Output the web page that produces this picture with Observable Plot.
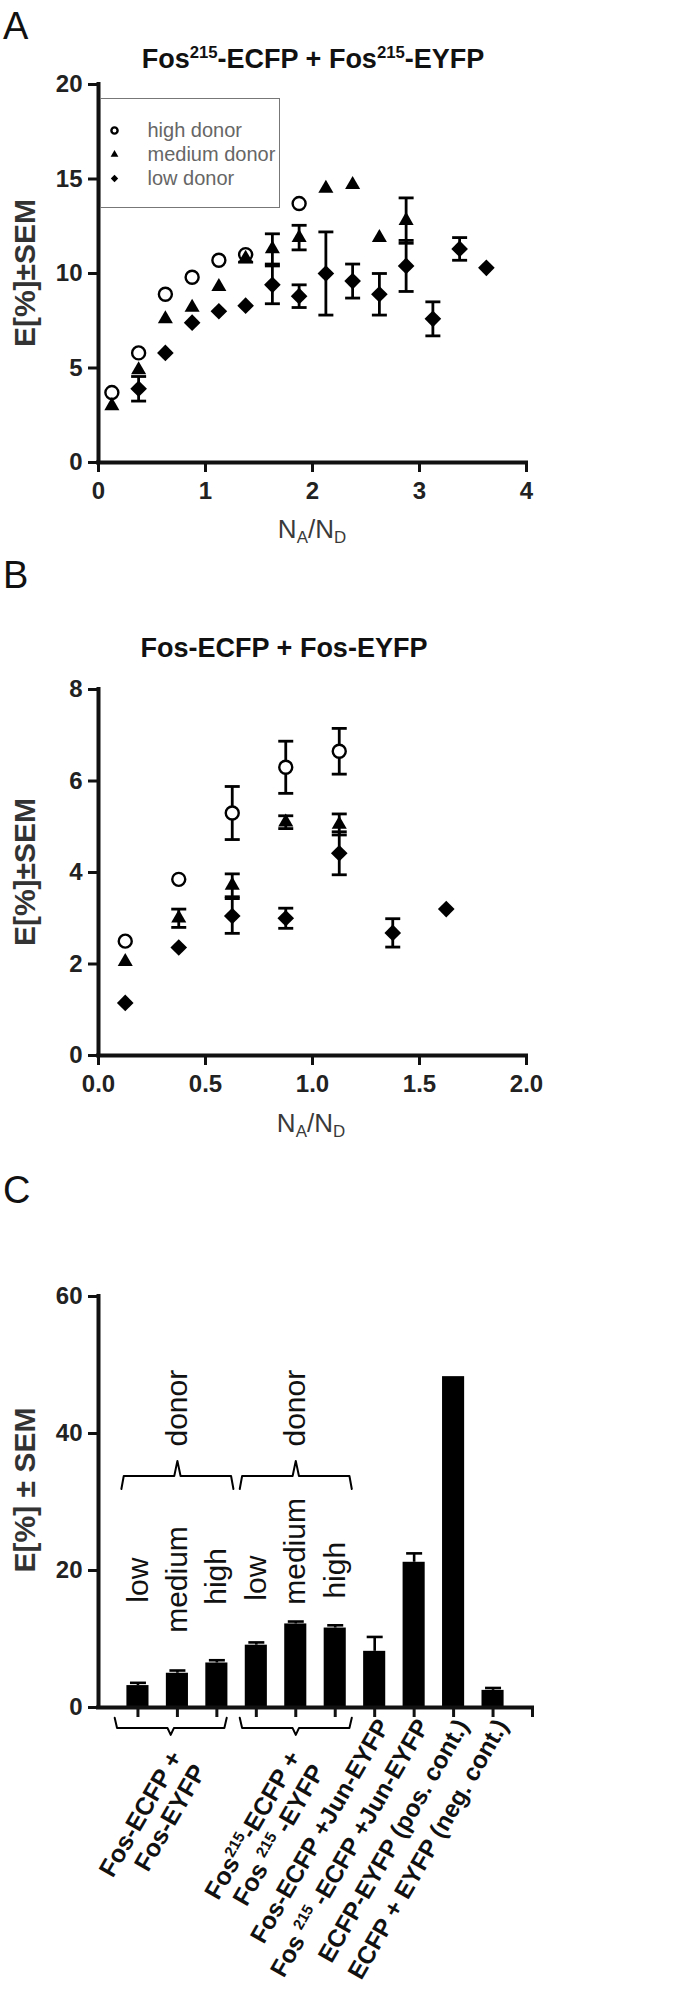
<!DOCTYPE html>
<html><head><meta charset="utf-8">
<script src="https://cdn.jsdelivr.net/npm/d3@7"></script>
<script src="https://cdn.jsdelivr.net/npm/@observablehq/plot@0.6"></script>
<style>
body{margin:0;background:#fff;}
#fig{position:relative;width:680px;height:2006px;font-family:"Liberation Sans",Arial,Helvetica,sans-serif;overflow:hidden;background:#fff;}
#fig svg{position:absolute;left:0;}
.lab{position:absolute;white-space:nowrap;line-height:1;}
.lab sub{font-size:0.65em;vertical-align:-0.28em;line-height:0;}
.lab sup{font-size:0.62em;vertical-align:0.62em;line-height:0;}
</style></head><body><div id="fig"></div>
<script>
// ---------------- DATA ----------------
const seriesNames = ["high donor", "medium donor", "low donor"];

// Panel A: Fos215-ECFP + Fos215-EYFP  (x = NA/ND, E[%], SEM)
const aHighX   = [0.125, 0.375, 0.625, 0.875, 1.125, 1.375, 1.875];
const aHighE   = [3.7, 5.8, 8.9, 9.8, 10.7, 11.0, 13.7];
const aHighSem = [0, 0, 0, 0, 0, 0, 0];
const aMedX    = [0.125, 0.375, 0.625, 0.875, 1.125, 1.375, 1.625, 1.875, 2.125, 2.375, 2.625, 2.875];
const aMedE    = [3.0, 4.9, 7.6, 8.2, 9.3, 10.8, 11.3, 11.9, 14.5, 14.7, 11.9, 12.8];
const aMedSem  = [0, 0, 0, 0, 0, 0.2, 0.8, 0.65, 0, 0, 0, 1.2];
const aLowX    = [0.375, 0.625, 0.875, 1.125, 1.375, 1.625, 1.875, 2.125, 2.375, 2.625, 2.875, 3.125, 3.375, 3.625];
const aLowE    = [3.9, 5.8, 7.4, 8.0, 8.3, 9.4, 8.8, 10.0, 9.6, 8.9, 10.4, 7.6, 11.3, 10.3];
const aLowSem  = [0.65, 0, 0, 0, 0, 1.0, 0.6, 2.2, 0.9, 1.1, 1.35, 0.9, 0.6, 0];
const aXTicks  = [0, 1, 2, 3, 4];
const aYTicks  = [0, 5, 10, 15, 20];

// Panel B: Fos-ECFP + Fos-EYFP
const bHighX   = [0.125, 0.375, 0.625, 0.875, 1.125];
const bHighE   = [2.5, 3.85, 5.3, 6.3, 6.65];
const bHighSem = [0, 0, 0.58, 0.57, 0.5];
const bMedX    = [0.125, 0.375, 0.625, 0.875, 1.125];
const bMedE    = [2.05, 3.0, 3.72, 5.1, 5.05];
const bMedSem  = [0, 0.2, 0.25, 0.14, 0.23];
const bLowX    = [0.125, 0.375, 0.625, 0.875, 1.125, 1.375, 1.625];
const bLowE    = [1.15, 2.36, 3.05, 3.0, 4.42, 2.68, 3.2];
const bLowSem  = [0, 0, 0.38, 0.22, 0.47, 0.31, 0];
const bXTicks  = [0, 0.5, 1, 1.5, 2];
const bYTicks  = [0, 2, 4, 6, 8];

// Panel C: bar chart
const cLabels = ["low", "medium", "high", "low", "medium", "high",
  "Fos-ECFP +Jun-EYFP", "Fos ^{215} -ECFP +Jun-EYFP", "ECFP-EYFP (pos. cont.)", "ECFP + EYFP (neg. cont.)"];
const cValues = [3.2, 5.0, 6.5, 9.1, 12.2, 11.6, 8.2, 21.2, 48.3, 2.5];
const cSem    = [0.4, 0.4, 0.4, 0.4, 0.35, 0.4, 2.1, 1.3, 0, 0.35];
const cGroupNames = ["Fos-ECFP +\nFos-EYFP", "Fos^{215}-ECFP +\nFos ^{215} -EYFP"];
const cGroupBars  = [[1, 3], [4, 6]];
const cGroupWord  = "donor";
const cYTicks = [0, 20, 40, 60];

// ---------------- LAYOUT ----------------
const FONT = '"Liberation Sans", Arial, Helvetica, sans-serif';
const fig = document.getElementById("fig");
const capSym = {draw(ctx, size) { const w = Math.sqrt(size / Math.PI); ctx.moveTo(-w, 0); ctx.lineTo(w, 0); }};
const donorLabelBase = [15.3, 10.9, 15.0, 15.6, 15.0, 15.9];
const lowerBracketShift = [-0.17, 0];
const BAR_HALF = 0.28;
const ML = 98, MR = 154;

function rows(name, xs, es, sems) { return xs.map((x, i) => ({series: name, x, e: es[i], sem: sems[i]})); }

function addLabel(html, o) {
  const d = document.createElement("div");
  d.className = "lab";
  d.innerHTML = html;
  d.style.fontSize = o.fs + "px";
  d.style.fontWeight = o.weight || "normal";
  d.style.color = o.color || "#111";
  if (o.rotate) {
    d.style.left = o.cx + "px"; d.style.top = o.cy + "px";
    d.style.transform = "translate(-50%,-50%) rotate(-90deg)";
  } else {
    d.style.top = (o.baseline - 0.8465 * o.fs) + "px";
    if (o.anchor === "middle") { d.style.left = o.cx + "px"; d.style.transform = "translateX(-50%)"; }
    else d.style.left = o.x + "px";
  }
  fig.appendChild(d);
  return d;
}

function superscripts(root) {
  root.querySelectorAll("text, tspan").forEach(el => {
    if (el.childNodes.length !== 1 || el.firstChild.nodeType !== 3) return;
    const s = el.textContent;
    if (!s.includes("^{")) return;
    const fs = parseFloat(getComputedStyle(el).fontSize) || 25;
    el.textContent = "";
    let shifted = false;
    for (const p of s.split(/(\^\{[^}]*\})/)) {
      if (!p) continue;
      const t = document.createElementNS("http://www.w3.org/2000/svg", "tspan");
      if (p.startsWith("^{")) {
        t.textContent = p.slice(2, -1);
        t.setAttribute("font-size", (fs * 0.62).toFixed(1));
        t.setAttribute("dy", (-fs * 0.36).toFixed(1));
        shifted = true;
      } else {
        t.textContent = p;
        if (shifted) { t.setAttribute("dy", (fs * 0.36).toFixed(1)); shifted = false; }
      }
      el.appendChild(t);
    }
  });
}

const axisText = {fontWeight: "bold", fill: "#222"};

function scatterPanel({data, xDomain, yDomain, xTicks, yTicks, xFormat, top, height, mt, mb}) {
  const err = data.filter(d => d.sem > 0);
  const pick = s => data.filter(d => d.series === s);
  const svg = Plot.plot({
    width: 680, height, marginTop: mt, marginBottom: mb, marginLeft: ML, marginRight: MR,
    style: {fontFamily: FONT, fontSize: "24px", color: "#111", background: "transparent", overflow: "visible"},
    x: {domain: xDomain}, y: {domain: yDomain},
    marks: [
      Plot.axisX({ticks: xTicks, tickSize: 10, tickPadding: 9, strokeWidth: 3, tickFormat: xFormat, label: null, ...axisText}),
      Plot.axisY({ticks: yTicks, tickSize: 10, tickPadding: 6, strokeWidth: 3, label: null, ...axisText}),
      Plot.ruleX([xDomain[0]], {y1: yDomain[0], y2: yDomain[1], strokeWidth: 4, strokeLinecap: "square"}),
      Plot.ruleY([yDomain[0]], {x1: xDomain[0], x2: xDomain[1], strokeWidth: 4, strokeLinecap: "square"}),
      Plot.ruleX(err, {x: "x", y1: d => d.e - d.sem, y2: d => d.e + d.sem, stroke: "black", strokeWidth: 2.8}),
      Plot.dot(err, {x: "x", y: d => d.e - d.sem, symbol: capSym, r: 7.5, fill: "none", stroke: "black", strokeWidth: 2.8}),
      Plot.dot(err, {x: "x", y: d => d.e + d.sem, symbol: capSym, r: 7.5, fill: "none", stroke: "black", strokeWidth: 2.8}),
      Plot.dot(pick(seriesNames[0]), {x: "x", y: "e", symbol: "circle", r: 6.5, fill: "white", stroke: "black", strokeWidth: 2.4}),
      Plot.dot(pick(seriesNames[1]), {x: "x", y: "e", symbol: "triangle", r: 5.6, fill: "black", stroke: "none"}),
      Plot.dot(pick(seriesNames[2]), {x: "x", y: "e", symbol: "diamond2", r: 7.5, fill: "black", stroke: "none"})
    ]
  });
  svg.style.top = top + "px";
  fig.appendChild(svg);
  return svg;
}

// ---------------- PANEL A ----------------
const aData = [...rows(seriesNames[0], aHighX, aHighE, aHighSem), ...rows(seriesNames[1], aMedX, aMedE, aMedSem), ...rows(seriesNames[2], aLowX, aLowE, aLowSem)];
scatterPanel({data: aData, xDomain: [0, 4], yDomain: [0, 20], xTicks: aXTicks, yTicks: aYTicks, xFormat: d3.format("d"),
  top: 0, height: 560, mt: 84, mb: 98});

// legend (small Plot) for panel A
const legendRows = seriesNames.map(s => ({series: s}));
const legend = Plot.plot({
  width: 178, height: 108, margin: 0,
  style: {fontFamily: FONT, fontSize: "20px", background: "white", overflow: "visible"},
  x: {axis: null, domain: [0, 1]},
  y: {axis: null, type: "point", domain: seriesNames, range: [19, 91]},
  symbol: {domain: seriesNames, range: ["circle", "triangle", "diamond2"]},
  marks: [
    Plot.dot(legendRows, {frameAnchor: "left", dx: 13, y: "series", symbol: "series",
      r: d => d.series === seriesNames[0] ? 6.5 : d.series === seriesNames[1] ? 5.6 : 7.5,
      fill: d => d.series === seriesNames[0] ? "white" : "black", stroke: d => d.series === seriesNames[0] ? "black" : "none", strokeWidth: 2.4}),
    Plot.text(legendRows, {frameAnchor: "left", dx: 46, y: "series", text: "series", textAnchor: "start", fill: "#666", fontSize: 20})
  ]
});
legend.style.left = "101px"; legend.style.top = "99px";
legend.style.outline = "1.5px solid #777";
fig.appendChild(legend);

addLabel("A", {x: 3, baseline: 39, fs: 38, color: "#111"});
addLabel("Fos<sup>215</sup>-ECFP + Fos<sup>215</sup>-EYFP", {cx: 313, baseline: 69, fs: 27, weight: "bold", anchor: "middle"});
addLabel("E[%]±SEM", {cx: 25, cy: 273, fs: 30, weight: "bold", color: "#333", rotate: true});
addLabel("N<sub>A</sub>/N<sub>D</sub>", {cx: 312, baseline: 538, fs: 26, color: "#3a3a3a", anchor: "middle"});

// ---------------- PANEL B ----------------
const bData = [...rows(seriesNames[0], bHighX, bHighE, bHighSem), ...rows(seriesNames[1], bMedX, bMedE, bMedSem), ...rows(seriesNames[2], bLowX, bLowE, bLowSem)];
scatterPanel({data: bData, xDomain: [0, 2], yDomain: [0, 8], xTicks: bXTicks, yTicks: bYTicks, xFormat: d3.format(".1f"),
  top: 600, height: 560, mt: 89, mb: 105});

addLabel("B", {x: 3, baseline: 588, fs: 38, color: "#111"});
addLabel("Fos-ECFP + Fos-EYFP", {cx: 284, baseline: 658, fs: 27, weight: "bold", anchor: "middle"});
addLabel("E[%]±SEM", {cx: 25, cy: 872, fs: 30, weight: "bold", color: "#333", rotate: true});
addLabel("N<sub>A</sub>/N<sub>D</sub>", {cx: 311, baseline: 1132, fs: 26, color: "#3a3a3a", anchor: "middle"});

// ---------------- PANEL C ----------------
const cData = cValues.map((v, i) => ({pos: i + 1, value: v, sem: cSem[i], label: cLabels[i]}));
const cGroups = cGroupNames.map((name, g) => ({name, center: (cGroupBars[g][0] + cGroupBars[g][1]) / 2}));
const BR_HALF = 1.42;
const upper = {level: 33.8, end: 31.9, nub: 36.0, word: 38.1};
const lower = {level: -3.0, end: -1.5, nub: -4.0};
function bracket(c, g, L) {
  return [
    {g, x: c - BR_HALF, y: L.end}, {g, x: c - BR_HALF + 0.06, y: L.level}, {g, x: c - 0.08, y: L.level},
    {g, x: c, y: L.nub}, {g, x: c + 0.08, y: L.level}, {g, x: c + BR_HALF - 0.06, y: L.level}, {g, x: c + BR_HALF, y: L.end}
  ];
}
const upperBr = cGroups.flatMap((d, g) => bracket(d.center, "u" + g, upper));
const lowerBr = cGroups.flatMap((d, g) => bracket(d.center + lowerBracketShift[g], "l" + g, lower));
const cErr = cData.filter(d => d.sem > 0);
const nPos = cData.length + 1;

const cTop = 1220, cMT = 76, cPlotH = 411;
const cSvg = Plot.plot({
  width: 680, height: 2006 - cTop, marginTop: cMT, marginBottom: 2006 - cTop - cMT - cPlotH, marginLeft: ML, marginRight: 148,
  style: {fontFamily: FONT, fontSize: "24px", color: "#111", background: "transparent", overflow: "visible"},
  x: {domain: [0, nPos]}, y: {domain: [0, 60]},
  marks: [
    Plot.axisY({ticks: cYTicks, tickSize: 10, tickPadding: 6, strokeWidth: 3, label: null, ...axisText}),
    Plot.axisX({ticks: d3.range(1, nPos + 1), tickSize: 10, strokeWidth: 3, tickFormat: () => "", label: null}),
    Plot.rect(cData, {x1: d => d.pos - BAR_HALF, x2: d => d.pos + BAR_HALF, y1: 0, y2: "value", fill: "black"}),
    Plot.ruleX(cErr, {x: "pos", y1: "value", y2: d => d.value + d.sem, stroke: "black", strokeWidth: 2.6}),
    Plot.dot(cErr, {x: "pos", y: d => d.value + d.sem, symbol: capSym, r: 8, fill: "none", stroke: "black", strokeWidth: 2.6}),
    Plot.ruleX([0], {y1: 0, y2: 60, strokeWidth: 4, strokeLinecap: "square"}),
    Plot.ruleY([0], {x1: 0, x2: nPos, strokeWidth: 4, strokeLinecap: "square"}),
    Plot.text(cData.slice(0, 6), {x: "pos", y: (d, i) => donorLabelBase[i], text: "label", rotate: -90, textAnchor: "start", fontSize: 30, fill: "#111"}),
    Plot.line(upperBr, {x: "x", y: "y", z: "g", stroke: "black", strokeWidth: 2}),
    Plot.line(lowerBr, {x: "x", y: "y", z: "g", stroke: "black", strokeWidth: 2}),
    Plot.text(cGroups, {x: "center", y: upper.word, text: () => cGroupWord, rotate: -90, textAnchor: "start", fontSize: 30, fill: "#111"}),
    Plot.text(cGroups, {x: "center", y: 0, text: "name", rotate: -60, textAnchor: "end", lineAnchor: "middle", lineHeight: 1.1,
      dx: 10, dy: 52, fontSize: 25, fontWeight: "bold", fill: "#111"}),
    Plot.text(cData.slice(6), {x: "pos", y: 0, text: "label", rotate: -60, textAnchor: "end", lineAnchor: "middle",
      dx: 9, dy: 14, fontSize: 24.5, fontWeight: "bold", fill: "#111"})
  ]
});
cSvg.style.top = cTop + "px";
fig.appendChild(cSvg);
superscripts(cSvg);

addLabel("C", {x: 3, baseline: 1203, fs: 38, color: "#111"});
addLabel("E[%] ± SEM", {cx: 25, cy: 1490, fs: 30, weight: "bold", color: "#333", rotate: true});
</script>
</body></html>
